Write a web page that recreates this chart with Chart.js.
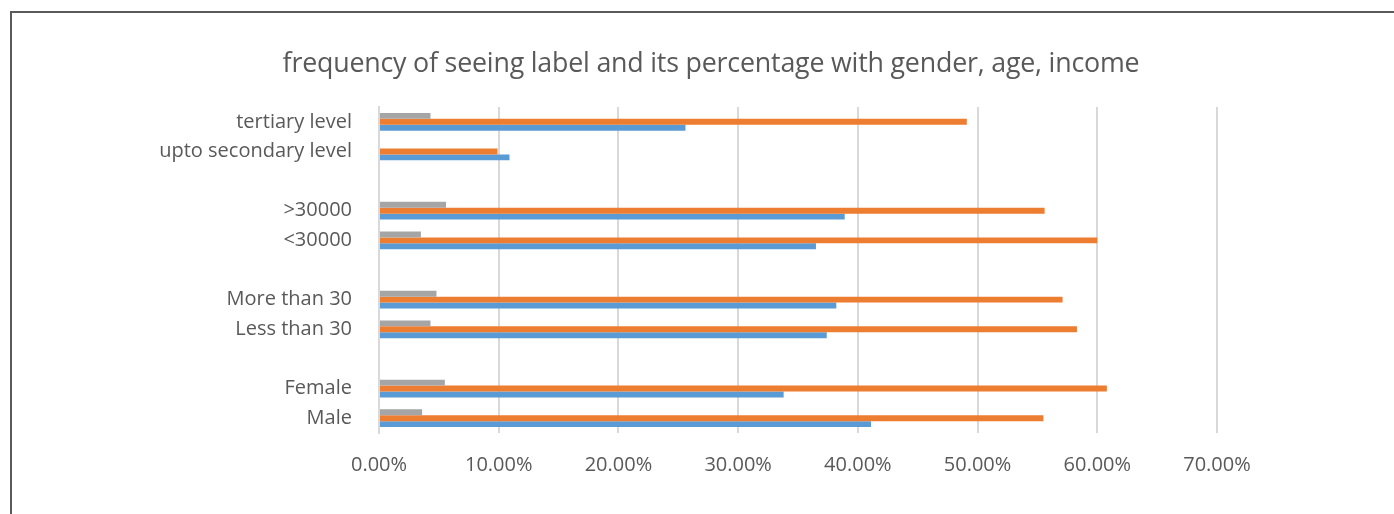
<!DOCTYPE html>
<html>
<head>
<meta charset="utf-8">
<script src="https://cdn.jsdelivr.net/npm/chart.js@4/dist/chart.umd.min.js"></script>
<style>
  html, body { margin: 0; padding: 0; background: #ffffff; }
  #wrap { position: relative; width: 1394px; height: 514px; overflow: hidden; }
  #frame { position: absolute; left: 10px; top: 11px; right: -10px; bottom: -10px;
           border-top: 2px solid #5a5a5a; border-left: 2px solid #5a5a5a; pointer-events: none; }
  #title { position: absolute; left: 211px; width: 1000px; top: 44px; height: 36px; line-height: 36px;
           text-align: center; font-family: 'Open Sans', sans-serif; font-size: 26.8px; color: #595959;
           letter-spacing: -0.2px; white-space: nowrap; }
  canvas { position: absolute; left: 0; top: 0; }
</style>
</head>
<body>
<div id="wrap">
  <canvas id="c" width="1394" height="514"></canvas>
  <div id="frame"></div>
  <div id="title"></div>
</div>
<script>
const titleText = 'frequency of seeing label and its percentage with gender, age, income';
const categories = ['tertiary level', 'upto secondary level', '', '>30000', '<30000', '', 'More than 30', 'Less than 30', '', 'Female', 'Male'];
const seriesGray   = [4.3, null, null, 5.6, 3.5, null, 4.8, 4.3, null, 5.5, 3.6];
const seriesOrange = [49.1, 9.9, null, 55.6, 60.0, null, 57.1, 58.3, null, 60.8, 55.5];
const seriesBlue   = [25.6, 10.9, null, 38.9, 36.5, null, 38.2, 37.4, null, 33.8, 41.1];
const xTicksMax = 70;
const xTickStep = 10;

document.getElementById('title').textContent = titleText;

const textColor = '#595959';
new Chart(document.getElementById('c'), {
  type: 'bar',
  data: {
    labels: categories,
    datasets: [
      { label: 'Series 3', data: seriesGray, backgroundColor: '#A5A5A5' },
      { label: 'Series 2', data: seriesOrange, backgroundColor: '#ED7D31' },
      { label: 'Series 1', data: seriesBlue, backgroundColor: '#5B9BD5' }
    ]
  },
  options: {
    indexAxis: 'y',
    responsive: false,
    animation: false,
    maintainAspectRatio: false,
    datasets: { bar: { categoryPercentage: 0.6, barPercentage: 1.0 } },
    layout: { padding: { left: 0, right: 177, top: 107, bottom: 0 } },
    plugins: {
      legend: { display: false },
      tooltip: { enabled: false },
      title: { display: false }
    },
    scales: {
      x: {
        min: 0, max: xTicksMax,
        ticks: {
          stepSize: xTickStep,
          color: textColor,
          padding: 20,
          font: { family: 'Open Sans', size: 20 },
          callback: v => v.toFixed(2) + '%'
        },
        grid: { color: '#d9d9d9', lineWidth: 2, drawTicks: false },
        border: { display: false },
        afterFit: s => { s.height = 81; }
      },
      y: {
        ticks: {
          color: textColor,
          padding: 27,
          font: { family: 'Open Sans', size: 20 }
        },
        grid: { display: false, drawTicks: false },
        border: { display: true, color: '#d9d9d9', width: 2 },
        afterFit: s => { s.width = 379; }
      }
    }
  }
});
</script>
</body>
</html>
